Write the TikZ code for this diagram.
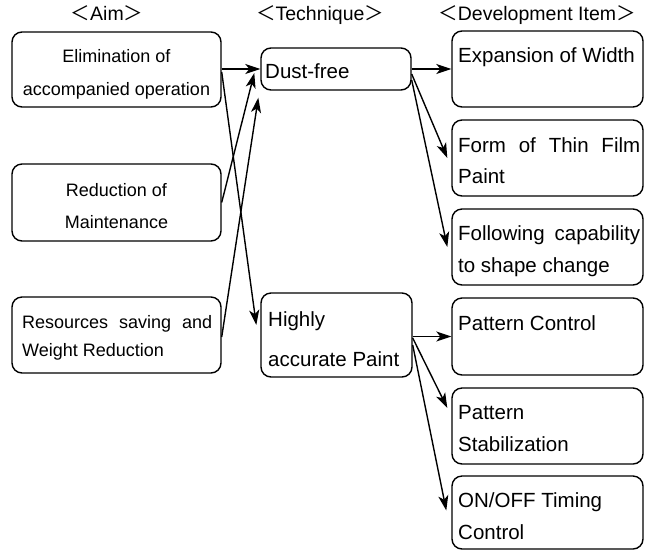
\documentclass[tikz,border=0pt]{standalone}
\usepackage{fontspec}
\setmainfont{Liberation Sans}
\newfontfamily\cjk{Noto Sans CJK JP}
\usetikzlibrary{arrows.meta}
\begin{document}
\begin{tikzpicture}[x=1pt,y=-1pt,
  box/.style={draw,line width=1.4pt,rounded corners=10pt,inner sep=0pt},
  aimtxt/.style={inner sep=0pt,anchor=base,font=\fontsize{18}{18}\selectfont},
  txt/.style={inner sep=0pt,anchor=base west,font=\fontsize{20.5}{20.5}\selectfont},
  hdr/.style={inner sep=0pt,anchor=base,font=\fontsize{19.5}{19.5}\selectfont},
  arr/.style={line width=1.4pt,-{Stealth[length=15pt,width=10pt,inset=4pt]}}]
\useasboundingbox (0,0) rectangle (655,550);
% headers
\node[hdr] (h1) at (107,20) {{\cjk ＜}Aim{\cjk ＞}};
\node[hdr] (h2) at (320,20) {{\cjk ＜}Technique{\cjk ＞}};
\node[hdr] (h3) at (537,20) {{\cjk ＜}Development Item{\cjk ＞}};
% aim boxes
\node[box,minimum width=209pt,minimum height=75pt] (A1) at (116.5,69.5) {};
\node[box,minimum width=209pt,minimum height=77pt] (A2) at (116.5,202.5) {};
\node[box,minimum width=209pt,minimum height=76pt] (A3) at (116.5,335) {};
\node[aimtxt] (a1a) at (116.5,62) {Elimination of};
\node[aimtxt] (a1b) at (116.5,95) {accompanied operation};
\node[aimtxt] (a2a) at (116.5,196) {Reduction of};
\node[aimtxt] (a2b) at (116.5,228) {Maintenance};
\node[aimtxt,anchor=base west] (a3a) at (22,328) {\makebox[190pt][s]{Resources saving and}};
\node[aimtxt,anchor=base west] (a3b) at (22,356) {Weight Reduction};
% technique boxes
\node[box,minimum width=150pt,minimum height=42pt] (T1) at (336,69) {};
\node[box,minimum width=151pt,minimum height=84pt] (T2) at (336.5,335) {};
\node[txt] (t1) at (265,78) {Dust-free};
\node[txt] (t2a) at (268,326) {Highly};
\node[txt] (t2b) at (268,366) {accurate Paint};
% development boxes
\node[box,minimum width=191pt,minimum height=76pt] (D1) at (547.5,69) {};
\node[box,minimum width=191pt,minimum height=76pt] (D2) at (547.5,158) {};
\node[box,minimum width=191pt,minimum height=76pt] (D3) at (547.5,247) {};
\node[box,minimum width=191pt,minimum height=77pt] (D4) at (547.5,336.5) {};
\node[box,minimum width=191pt,minimum height=76pt] (D5) at (547.5,426) {};
\node[box,minimum width=191pt,minimum height=73pt] (D6) at (547.5,512.5) {};
\node[txt] (d1) at (458,62) {Expansion of Width};
\node[txt] (d2a) at (458,152) {\makebox[182pt][s]{Form of Thin Film}};
\node[txt] (d2b) at (458,183) {Paint};
\node[txt] (d3a) at (458,240) {\makebox[182pt][s]{Following capability}};
\node[txt] (d3b) at (458,272) {to shape change};
\node[txt] (d4) at (458,330) {Pattern Control};
\node[txt] (d5a) at (458,419) {Pattern};
\node[txt] (d5b) at (458,451) {Stabilization};
\node[txt] (d6a) at (458,507) {ON/OFF Timing};
\node[txt] (d6b) at (458,539) {Control};
% arrows aim -> technique
\draw[arr] ([yshift=0.5pt]A1.east) -- (T1.west);
\draw[arr] ([yshift=-2.5pt]A1.east) -- ([shift={(-4pt,10pt)}]T2.west);
\draw[arr] (A2.east) -- ([shift={(-6pt,-4pt)}]T1.west);
\draw[arr] ([yshift=-2pt]A3.east) -- ([shift={(-2pt,-7pt)}]T1.south west);
% arrows technique -> development
\draw[arr] (T1.east) -- (D1.west);
\draw[arr] ([yshift=-5pt]T1.east) -- ([xshift=-4pt]D2.west);
\draw[arr] ([yshift=-11pt]T1.east) -- ([xshift=-4pt]D3.west);
\draw[arr] (T2.east |- D4.west) -- (D4.west);
\draw[arr] ([yshift=-3pt]T2.east) -- ([shift={(-4pt,18pt)}]D5.west);
\draw[arr] ([yshift=-10pt]T2.east) -- ([shift={(-5pt,2pt)}]D6.west);
\end{tikzpicture}
\end{document}
